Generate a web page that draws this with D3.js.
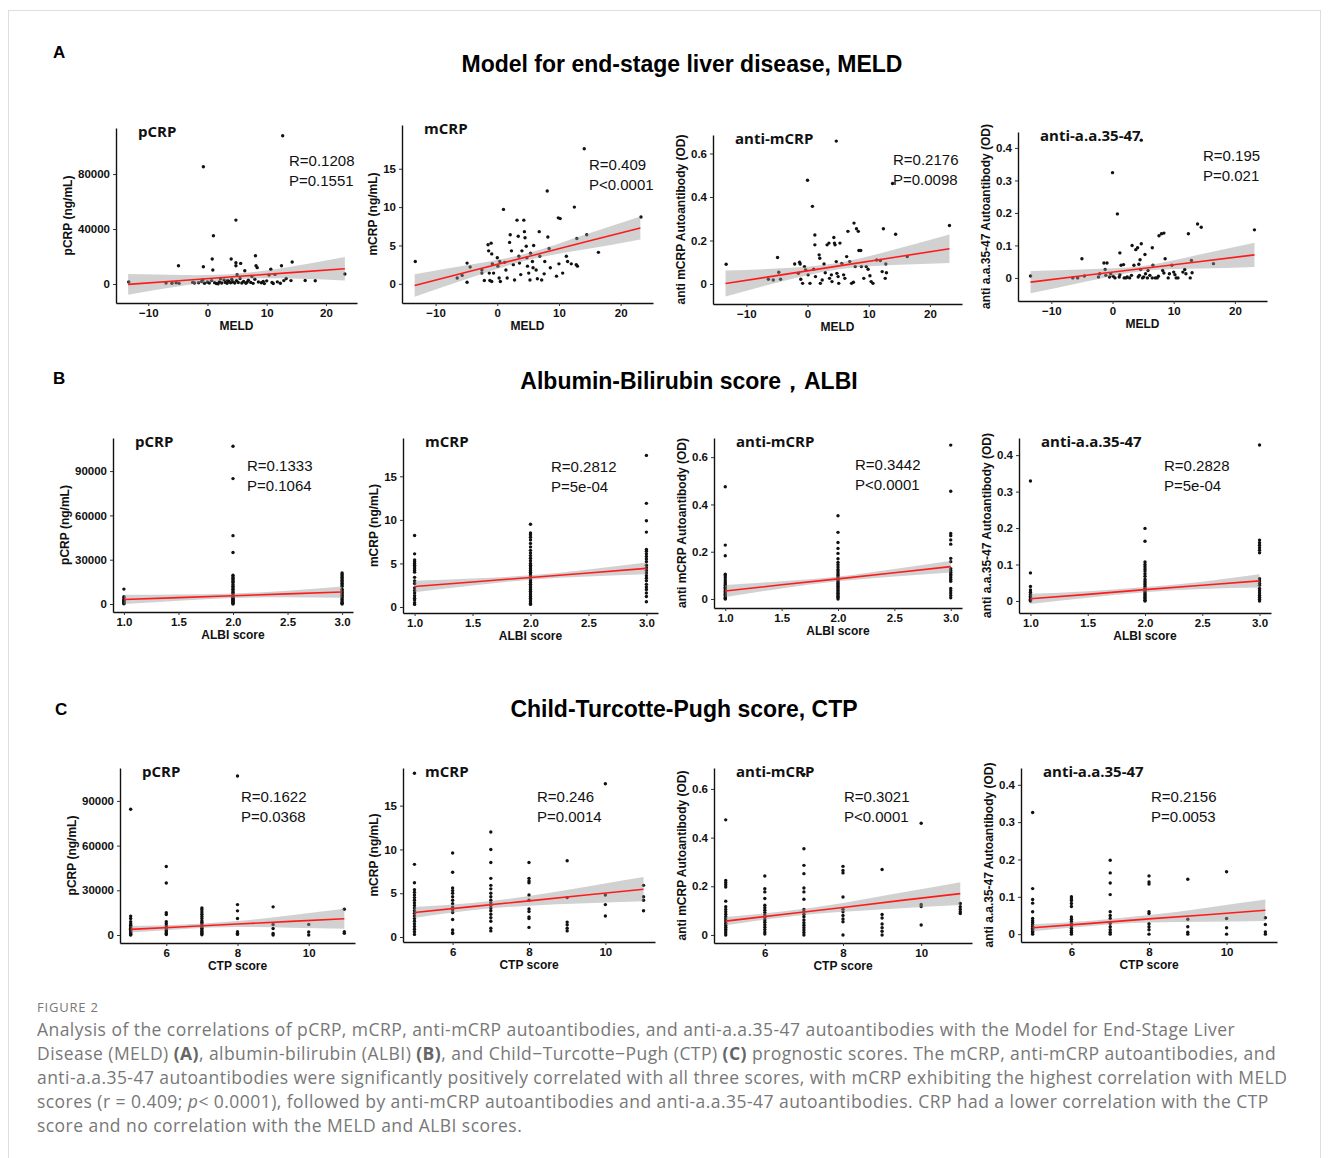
<!DOCTYPE html>
<html>
<head>
<meta charset="utf-8">
<script src="https://d3js.org/d3.v7.min.js"></script>
<style>
  body { margin: 0; background: #fff; }
  .tick text { font-family: "Liberation Sans", Arial, sans-serif; font-weight: bold; font-size: 11.5px; fill: #111; }
  .lab { font-family: "Liberation Sans", Arial, sans-serif; font-weight: bold; font-size: 12px; fill: #111; }
  .ptitle { font-family: "Open Sans", sans-serif; font-weight: bold; font-size: 15px; fill: #111; }
  .stat { font-family: "Liberation Sans", Arial, sans-serif; font-size: 15px; fill: #111; }
  .head { font-family: "Liberation Sans", Arial, sans-serif; font-weight: bold; fill: #000; }
  .cap { font-family: "Open Sans", sans-serif; font-size: 17.5px; letter-spacing: 0.45px; fill: #777; }
</style>
</head>
<body>
<svg width="1329" height="1158"></svg>
<script>

// ---- labels ----
const rowLetters = ['A', 'B', 'C'];
const rowTitles = ['Model for end-stage liver disease, MELD', 'Albumin-Bilirubin score\uFF0CALBI', 'Child-Turcotte-Pugh score, CTP'];
const panelNames = ['pCRP', 'mCRP', 'anti-mCRP', 'anti-a.a.35-47'];
const yLabels = ['pCRP (ng/mL)', 'mCRP (ng/mL)', 'anti mCRP Autoantibody (OD)', 'anti a.a.35-47 Autoantibody (OD)'];
const xLabels = ['MELD', 'ALBI score', 'CTP score'];
const rStats = [['R=0.1208', 'R=0.409', 'R=0.2176', 'R=0.195'],
                ['R=0.1333', 'R=0.2812', 'R=0.3442', 'R=0.2828'],
                ['R=0.1622', 'R=0.246', 'R=0.3021', 'R=0.2156']];
const pStats = [['P=0.1551', 'P<0.0001', 'P=0.0098', 'P=0.021'],
                ['P=0.1064', 'P=5e-04', 'P<0.0001', 'P=5e-04'],
                ['P=0.0368', 'P=0.0014', 'P<0.0001', 'P=0.0053']];

// ---- axes ----
const xDomains = [[-15.45, 25.25], [0.9, 3.1], [4.7, 11.3]];
const xTicks = [[-10, 0, 10, 20], [1, 1.5, 2, 2.5, 3], [6, 8, 10]];
const yDomains = [
  [[-13800, 113500], [-2.5, 20.7], [-0.092, 0.685], [-0.071, 0.449]],
  [[-5400, 112400], [-0.69, 19.4], [-0.038, 0.681], [-0.033, 0.447]],
  [[-5370, 112100], [-0.57, 19.3], [-0.033, 0.686], [-0.021, 0.445]]];
const yTicksA = [[0, 40000, 80000], [0, 5, 10, 15], [0, 0.2, 0.4, 0.6], [0, 0.1, 0.2, 0.3, 0.4]];
const yTicksBC = [[0, 30000, 60000, 90000], [0, 5, 10, 15], [0, 0.2, 0.4, 0.6], [0, 0.1, 0.2, 0.3, 0.4]];

// ---- MELD scatter (x = MELD, y = value) ----
const meldPcrp = [[12.7,107900],[-0.7,85300],[4.8,46500],[1.0,35100],[0.8,18200],[4.0,18200],[8.1,20600],[-4.9,13300],[-0.7,12600],[4.8,15500],[4.8,13300],[5.6,15000],[8.2,13300],[8.4,11900],[12.5,13300],[14.3,16000],[0.9,10200],[6.3,9700],[10.7,10700],[23.2,7300],[-13.3,1500],[18.2,2400],
  [-7,800],[-6,600],[-5.3,900],[-4.8,500],[-2.5,1200],[-2.2,700],[-1.5,900],[-1.0,1800],[-0.5,600],[0,1500],[0.3,800],[0.7,2500],[1.2,1000],[1.5,400],[2.0,1600],[2.4,700],[2.8,3000],[3.0,1200],[3.3,500],[3.6,2000],[3.9,900],[4.1,3500],[4.3,1500],[4.6,700],[4.9,2500],[5.2,1100],[5.5,4000],[5.8,800],[6.1,1800],[6.5,600],[6.9,2800],[7.3,1200],[7.7,500],[8.0,3500],[8.6,1500],[9.1,900],[9.6,300],[10.0,2300],[10.4,6500],[10.9,1200],[11.4,7000],[11.8,1600],[12.3,600],[12.9,2500],[13.3,4000],[14.1,2500],[2.2,3800],[-0.8,3000],[7.5,5500],[5.0,6800],[1.8,200],[3.4,2600],[6.7,1400],[9.4,1900],[11.1,400],[16.5,2600]];
const meldMcrp = [[-13.3,2.9],[-6.5,0.75],[-5.7,1.1],[-4.9,0.2],[-4.9,2.7],[-4.4,2.2],[-2.5,1.8],[-2.5,1.4],[-2.1,0.44],[-1.5,5.1],[-1.0,5.3],[-1.4,4.3],[-0.9,3.9],[-0.8,2.6],[-0.6,1.4],[-1.2,0.44],[-0.9,0.3],[0,3.4],[0.1,2.3],[0.3,0.75],[0.4,2.9],[0.5,0.3],[1.0,9.7],[1.2,2.8],[1.4,1.8],[1.6,0.75],[2.0,5.4],[2.3,4.3],[2.6,2.5],[2.8,0.5],[3.2,8.3],[3.4,6.2],[3.5,3.6],[3.6,2.7],[3.8,1.2],[4.3,8.3],[4.4,6.8],[4.5,6.0],[4.7,4.9],[4.8,3.4],[4.9,2.3],[5.1,1.4],[5.3,0.5],[5.4,4.0],[5.7,2.9],[5.9,5.0],[6.3,1.8],[6.5,0.66],[6.8,6.8],[6.9,3.6],[7.2,0.5],[7.6,1.3],[7.7,2.9],[8.1,12.1],[8.2,6.1],[8.4,4.6],[8.6,2.1],[9.6,1.0],[9.9,8.6],[10.2,8.5],[10.0,2.6],[10.6,1.4],[11.2,3.6],[11.4,2.9],[12.0,2.6],[12.5,10.0],[12.8,2.5],[12.9,5.9],[13.0,2.3],[14.1,17.6],[14.5,6.4],[16.4,4.1],[23.3,8.7],[-1.3,1.4],[2.1,6.4],[4.0,4.3],[5.8,2.1]];
const meldAnti = [[-13.3,0.091],[-4.9,0.122],[-4.7,0.054],[-4.4,0.022],[-6.4,0.022],[-5.6,0.018],[-2.1,0.092],[-1.3,0.10],[-1.2,0.092],[-1.5,0.049],[-1.1,0.022],[-0.8,0.003],[-0.5,0.08],[0,0.477],[-0.3,0.065],[0.1,0.042],[0.4,0.003],[0.8,0.357],[1.0,0.068],[1.2,0.225],[1.2,0.18],[1.3,0.034],[1.9,0.134],[2.0,0.118],[2.1,0.003],[2.4,0.018],[2.7,0.092],[2.9,0.052],[3.2,0.18],[3.5,0.188],[3.6,0.026],[3.9,0.042],[4.0,0.011],[4.3,0.214],[4.4,0.188],[4.5,0.18],[4.7,0.657],[4.7,0.103],[4.8,0.049],[5.0,0.034],[5.1,0.003],[5.3,0.188],[5.6,0.095],[5.9,0.042],[6.1,0.026],[6.4,0.126],[6.6,0.242],[6.9,0.103],[7.2,0.003],[7.5,0.008],[7.6,0.28],[7.8,0.08],[8.0,0.254],[8.3,0.242],[8.4,0.154],[8.7,0.154],[8.8,0.08],[9.2,0.026],[9.6,0.08],[9.9,0.068],[10.2,0.038],[10.4,0.011],[10.7,0.003],[11.3,0.11],[11.9,0.108],[12.2,0.057],[12.4,0.254],[12.7,0.026],[12.8,0.092],[12.9,0.052],[14.4,0.229],[16.3,0.126],[23.2,0.269],[13.9,0.462]];
const meldAa = [[-13.4,0.006],[-6.5,0],[-5.7,0],[-5.0,0.059],[-4.6,0.006],[-2.3,0.003],[-2.1,0.013],[-1.4,0.046],[-0.9,0.046],[-1.2,0.026],[-1.1,0.008],[-0.5,0.003],[-0.3,0.013],[0,0.324],[0.1,0.005],[0.4,0],[0.8,0.197],[1.1,0.003],[1.2,0.01],[1.2,0.077],[1.4,0.039],[1.8,0.041],[1.9,0],[2.2,0],[2.4,0.003],[2.8,0],[3.1,0.008],[3.2,0.1],[3.5,0.039],[3.8,0.087],[4.1,0.093],[4.2,0.003],[4.4,0.008],[4.3,0.042],[4.5,0.056],[4.6,0.026],[4.7,0.424],[4.7,0.105],[4.9,0],[5.1,0.003],[5.3,0.072],[5.4,0.013],[5.7,0],[5.8,0.023],[6.1,0.008],[6.5,0],[6.5,0.093],[6.6,0.039],[7.0,0],[7.3,0],[7.5,0.005],[7.6,0.13],[8.0,0.136],[8.4,0.138],[8.2,0.023],[8.4,0.015],[8.6,0.059],[9.1,0],[9.3,0.013],[9.7,0.039],[10.0,0.018],[10.2,0.01],[10.4,0],[10.7,0],[11.5,0.018],[11.8,0.026],[12.0,0.013],[12.4,0.136],[12.7,0],[12.9,0.054],[13.0,0.016],[13.9,0.166],[14.5,0.156],[16.5,0.044],[23.2,0.148]];

// ---- ALBI groups (values at ALBI = 1, 2, 3) ----
const albiLevels = [1, 2, 3];
const albiPcrp = [
  [10100, 5000, 4000, 3000, 2500, 2000, 1500, 1000, 500, 200],
  [106800, 84900, 46300, 34900, 19500, 18500, 17500, 16500, 15500, 14500, 13300, 12000, 11000, 10000, 9000, 8000, 7000, 6000, 5000, 4500, 4000, 3500, 3000, 2500, 2000, 1500, 1000, 500, 0],
  [21000, 20000, 19000, 18000, 17000, 16000, 15000, 14000, 13000, 12000, 10000, 9000, 8000, 7000, 6000, 5000, 4000, 3000, 2000, 1000, 500, 0]];
const albiMcrp = [
  [8.2, 6.1, 5.4, 5.2, 5.0, 4.8, 4.6, 4.4, 4.2, 4.0, 3.4, 3.0, 2.7, 2.2, 1.9, 1.6, 1.3, 1.0, 0.8, 0.5, 0.3],
  [9.5, 8.5, 8.3, 8.0, 7.7, 7.3, 6.9, 6.5, 6.2, 5.9, 5.6, 5.3, 5.0, 4.8, 4.6, 4.4, 4.2, 4.0, 3.8, 3.6, 3.4, 3.2, 3.0, 2.8, 2.6, 2.4, 2.2, 2.0, 1.8, 1.6, 1.4, 1.2, 1.0, 0.8, 0.6, 0.4, 0.3],
  [17.4, 11.9, 9.9, 8.6, 6.6, 6.4, 6.1, 5.8, 5.5, 5.2, 4.8, 4.5, 4.2, 3.9, 3.6, 3.3, 3.0, 2.6, 2.3, 2.0, 1.6, 1.2, 0.6]];
const albiAnti = [
  [0.475, 0.228, 0.183, 0.105, 0.098, 0.09, 0.08, 0.072, 0.065, 0.058, 0.05, 0.044, 0.038, 0.032, 0.026, 0.02, 0.014, 0.008, 0.003, 0.0],
  [0.352, 0.282, 0.239, 0.214, 0.193, 0.17, 0.155, 0.145, 0.135, 0.125, 0.118, 0.11, 0.103, 0.097, 0.09, 0.084, 0.078, 0.072, 0.066, 0.06, 0.054, 0.048, 0.042, 0.036, 0.03, 0.024, 0.018, 0.012, 0.006, 0.0],
  [0.651, 0.456, 0.277, 0.268, 0.25, 0.232, 0.172, 0.158, 0.128, 0.12, 0.113, 0.105, 0.098, 0.09, 0.083, 0.075, 0.045, 0.035, 0.025, 0.015, 0.005]];
const albiAa = [
  [0.329, 0.077, 0.04, 0.03, 0.024, 0.018, 0.013, 0.009, 0.005, 0.002, 0.0],
  [0.199, 0.164, 0.107, 0.1, 0.094, 0.088, 0.082, 0.075, 0.068, 0.06, 0.055, 0.05, 0.045, 0.04, 0.035, 0.03, 0.026, 0.022, 0.018, 0.014, 0.01, 0.006, 0.002, 0.0],
  [0.428, 0.167, 0.16, 0.153, 0.146, 0.139, 0.132, 0.061, 0.055, 0.048, 0.043, 0.034, 0.028, 0.022, 0.016, 0.01, 0.005, 0.0]];

// ---- CTP groups (values at CTP = 5..11) ----
const ctpLevels = [5, 6, 7, 8, 9, 10, 11];
const ctpPcrp = [
  [84400, 12700, 11100, 8900, 7500, 6500, 5500, 4500, 3800, 3000, 2200, 1500, 800, 300, 0],
  [46000, 34900, 14900, 13800, 8900, 7500, 6000, 5000, 4000, 3000, 2000, 1000, 300],
  [18200, 17000, 15500, 14000, 12500, 11000, 9500, 8500, 7500, 6500, 5500, 4500, 3500, 2500, 1500, 800, 200],
  [106700, 20400, 16200, 11100, 2200, 1200, 400],
  [18900, 7100, 4400, 1000, 0],
  [7100, 2000, 0],
  [17300, 2200, 1100]];
const ctpMcrp = [
  [18.7, 8.3, 6.2, 5.4, 5.1, 4.8, 4.5, 4.2, 3.9, 3.6, 3.3, 3.0, 2.7, 2.4, 2.1, 1.8, 1.5, 1.2, 0.9, 0.6, 0.3],
  [9.6, 7.4, 5.6, 5.3, 5.0, 4.6, 4.2, 3.8, 3.4, 3.1, 2.8, 2.0, 0.8, 0.5, 0.4],
  [12, 10, 8.5, 6.7, 5.9, 5.5, 5.0, 4.6, 4.2, 3.9, 3.6, 3.3, 3.0, 2.6, 2.2, 1.8, 1.0, 0.7],
  [8.5, 6.7, 6.4, 6.2, 4.8, 4.2, 3.2, 2.9, 2.3, 2.1, 1.1],
  [8.7, 4.5, 1.7, 1.4, 1.0, 0.7],
  [17.5, 4.8, 3.7, 2.4],
  [5.9, 4.6, 4.2, 3.0]];
const ctpAnti = [
  [0.473, 0.224, 0.215, 0.206, 0.197, 0.139, 0.116, 0.105, 0.095, 0.085, 0.075, 0.066, 0.057, 0.048, 0.04, 0.032, 0.024, 0.016, 0.008, 0.0],
  [0.242, 0.19, 0.177, 0.15, 0.122, 0.112, 0.102, 0.092, 0.082, 0.072, 0.062, 0.052, 0.042, 0.032, 0.022, 0.012, 0.004],
  [0.66, 0.354, 0.286, 0.252, 0.193, 0.177, 0.147, 0.105, 0.095, 0.085, 0.075, 0.062, 0.05, 0.04, 0.03, 0.02, 0.01, 0.0],
  [0.282, 0.265, 0.255, 0.156, 0.106, 0.095, 0.08, 0.066, 0.054, 0.0],
  [0.269, 0.084, 0.07, 0.045, 0.03, 0.015, 0.0],
  [0.459, 0.125, 0.117, 0.041],
  [0.129, 0.116, 0.105, 0.095, 0.088]];
const ctpAa = [
  [0.326, 0.122, 0.093, 0.083, 0.06, 0.042, 0.036, 0.031, 0.026, 0.021, 0.016, 0.012, 0.008, 0.004, 0.0],
  [0.1, 0.095, 0.09, 0.082, 0.074, 0.046, 0.04, 0.034, 0.028, 0.022, 0.016, 0.01, 0.005, 0.0],
  [0.198, 0.164, 0.137, 0.106, 0.06, 0.05, 0.042, 0.029, 0.02, 0.012, 0.005, 0.0],
  [0.156, 0.14, 0.134, 0.06, 0.055, 0.028, 0.02, 0.012, 0.0],
  [0.147, 0.04, 0.02, 0.005, 0.0],
  [0.167, 0.042, 0.017, 0.0],
  [0.044, 0.026, 0.006, 0.0]];

// ---- linear fit + 95% band, read at 5 x positions per row ----
const bandXs = [[-13.4, -4.25, 4.9, 14.05, 23.2], [1, 1.5, 2, 2.5, 3], [5, 6.5, 8, 9.5, 11]];
const fitYs = [
  [[-240, 2600, 5450, 8300, 11130], [-0.22, 1.66, 3.53, 5.41, 7.28], [0.002, 0.042, 0.082, 0.122, 0.162], [-0.013, 0.008, 0.029, 0.050, 0.071]],
  [[3100, 4350, 5600, 6850, 8100], [2.35, 2.87, 3.39, 3.91, 4.43], [0.034, 0.06, 0.085, 0.111, 0.137], [0.006, 0.018, 0.031, 0.043, 0.055]],
  [[3800, 5575, 7350, 9125, 10900], [2.8, 3.47, 4.13, 4.8, 5.46], [0.057, 0.085, 0.113, 0.142, 0.17], [0.017, 0.029, 0.041, 0.052, 0.064]]];
const bandLos = [
  [[-7740, -1300, 3450, 4000, 2630], [-1.69, 0.81, 3.08, 4.46, 5.78], [-0.058, 0.012, 0.067, 0.087, 0.097], [-0.047, -0.011, 0.021, 0.029, 0.034]],
  [[0, 2250, 4100, 4650, 4300], [1.70, 2.47, 3.14, 3.51, 3.75], [0.009, 0.045, 0.075, 0.095, 0.112], [-0.008, 0.009, 0.024, 0.033, 0.037]],
  [[1600, 4075, 5350, 4925, 4250], [2.18, 3.05, 3.58, 3.85, 4.08], [0.04, 0.073, 0.095, 0.11, 0.123], [0.0075, 0.022, 0.031, 0.033, 0.0355]]];
const bandHis = [
  [[7260, 6500, 7450, 12600, 19630], [1.25, 2.51, 3.98, 6.36, 8.78], [0.062, 0.072, 0.097, 0.157, 0.227], [0.021, 0.027, 0.037, 0.071, 0.108]],
  [[6200, 6450, 7100, 9050, 11900], [3.0, 3.27, 3.64, 4.31, 5.11], [0.059, 0.075, 0.095, 0.127, 0.162], [0.02, 0.027, 0.038, 0.053, 0.073]],
  [[6000, 7075, 9350, 13325, 17550], [3.42, 3.89, 4.68, 5.75, 6.84], [0.074, 0.097, 0.131, 0.174, 0.217], [0.0265, 0.036, 0.051, 0.071, 0.0925]]];

// ---- caption ----
const captionLines = [
  [['Analysis of the correlations of pCRP, mCRP, anti-mCRP autoantibodies, and anti-a.a.35-47 autoantibodies with the Model for End-Stage Liver', '']],
  [['Disease (MELD) ', ''], ['(A)', 'b'], [', albumin-bilirubin (ALBI) ', ''], ['(B)', 'b'], [', and Child\u2212Turcotte\u2212Pugh (CTP) ', ''], ['(C)', 'b'], [' prognostic scores. The mCRP, anti-mCRP autoantibodies, and', '']],
  [['anti-a.a.35-47 autoantibodies were significantly positively correlated with all three scores, with mCRP exhibiting the highest correlation with MELD', '']],
  [['scores (r = 0.409; ', ''], ['p', 'i'], ['< 0.0001), followed by anti-mCRP autoantibodies and anti-a.a.35-47 autoantibodies. CRP had a lower correlation with the CTP', '']],
  [['score and no correlation with the MELD and ALBI scores.', '']]];

// ---- layout (pixels) ----
const panelBoxes = [
  [[116, 357, 128, 303], [402, 653, 125, 303], [713, 962, 135, 304], [1018, 1267, 132, 301]],
  [[113, 353, 438, 612], [403, 658, 438, 613], [714, 962, 438, 608], [1019, 1271, 438, 613]],
  [[120, 355, 768, 943], [403, 655, 768, 942], [714, 972, 768, 943], [1021, 1277, 768, 942]]];
const statPos = [
  [[289, 161], [589, 165], [893, 160], [1203, 156]],
  [[247, 466], [551, 467], [855, 465], [1164, 466]],
  [[241, 797], [537, 797], [844, 797], [1151, 797]]];
const headPos = [[53, 58, 682, 72], [53, 384, 689, 389], [55, 715, 684, 717]];

const svg = d3.select('svg');
svg.append('rect').attr('x', 8.5).attr('y', 10.5).attr('width', 1312).attr('height', 1170)
  .attr('fill', 'none').attr('stroke', '#dedede');

const groupsToPoints = (levels, groups) => {
  const pts = [];
  levels.forEach((lv, i) => groups[i].forEach(v => pts.push([lv, v])));
  return pts;
};

const rowPoints = [
  [meldPcrp, meldMcrp, meldAnti, meldAa],
  [albiPcrp, albiMcrp, albiAnti, albiAa].map(g => groupsToPoints(albiLevels, g)),
  [ctpPcrp, ctpMcrp, ctpAnti, ctpAa].map(g => groupsToPoints(ctpLevels, g))];

function yFormat(v) {
  if (Math.abs(v) < 1 && v !== 0) return d3.format('.1f')(v);
  return v;
}

function drawPanel(row, col) {
  const [l, r, t, b] = panelBoxes[row][col];
  const x = d3.scaleLinear().domain(xDomains[row]).range([l, r]);
  const y = d3.scaleLinear().domain(yDomains[row][col]).range([b, t]);
  const g = svg.append('g');

  g.selectAll('circle')
    .data(rowPoints[row][col])
    .join('circle')
    .attr('cx', d => x(d[0]))
    .attr('cy', d => y(d[1]))
    .attr('r', 1.7)
    .attr('fill', '#111');

  const band = bandXs[row].map((v, i) => ({ x: v, fit: fitYs[row][col][i], lo: bandLos[row][col][i], hi: bandHis[row][col][i] }));
  g.append('path')
    .datum(band)
    .attr('d', d3.area().x(d => x(d.x)).y0(d => y(d.lo)).y1(d => y(d.hi)).curve(d3.curveNatural))
    .attr('fill', '#999')
    .attr('opacity', 0.45);
  g.append('path')
    .datum(band)
    .attr('d', d3.line().x(d => x(d.x)).y(d => y(d.fit)))
    .attr('fill', 'none')
    .attr('stroke', '#ff1a1a')
    .attr('stroke-width', 1.6);

  const yTicks = row === 0 ? yTicksA[col] : yTicksBC[col];
  const xa = g.append('g').attr('transform', `translate(0,${b})`)
    .call(d3.axisBottom(x).tickValues(xTicks[row]).tickSize(3).tickSizeOuter(0)
      .tickFormat(row === 1 ? d3.format('.1f') : d3.format('d')));
  const ya = g.append('g').attr('transform', `translate(${l},0)`)
    .call(d3.axisLeft(y).tickValues(yTicks).tickSize(3).tickSizeOuter(0).tickFormat(yFormat));
  [xa, ya].forEach(a => {
    a.select('.domain').attr('stroke', '#111').attr('stroke-width', 1.4);
    a.selectAll('.tick line').attr('stroke', '#333');
  });

  g.append('text').attr('class', 'lab')
    .attr('x', (l + r) / 2).attr('y', b + 27)
    .attr('text-anchor', 'middle').text(xLabels[row]);

  const bw = ya.node().getBBox().width;
  g.append('text').attr('class', 'lab')
    .attr('transform', `translate(${l - bw - 6},${(t + b) / 2}) rotate(-90)`)
    .attr('text-anchor', 'middle').text(yLabels[col]);

  g.append('text').attr('class', 'ptitle')
    .attr('x', l + 22).attr('y', t + 9).text(panelNames[col]);

  const [sx, sy] = statPos[row][col];
  g.append('text').attr('class', 'stat').attr('x', sx).attr('y', sy + 5).text(rStats[row][col]);
  g.append('text').attr('class', 'stat').attr('x', sx).attr('y', sy + 25).text(pStats[row][col]);
}

rowLetters.forEach((letter, row) => {
  const [lx, ly, tx, ty] = headPos[row];
  svg.append('text').attr('class', 'head').attr('x', lx).attr('y', ly)
    .style('font-size', '17px').text(letter);
  svg.append('text').attr('class', 'head').attr('x', tx).attr('y', ty)
    .attr('text-anchor', 'middle').style('font-size', '23px').text(rowTitles[row]);
  panelNames.forEach((_, col) => drawPanel(row, col));
});

svg.append('text').attr('class', 'cap').attr('x', 37).attr('y', 1012)
  .style('font-size', '13px').style('letter-spacing', '0.8px').text('FIGURE 2');

captionLines.forEach((segs, i) => {
  const t = svg.append('text').attr('class', 'cap').attr('x', 37).attr('y', 1036 + i * 24);
  segs.forEach(([s, st]) => {
    const ts = t.append('tspan').text(s);
    if (st === 'b') ts.attr('font-weight', 'bold').attr('fill', '#666');
    if (st === 'i') ts.attr('font-style', 'italic');
  });
});

</script>
</body>
</html>
